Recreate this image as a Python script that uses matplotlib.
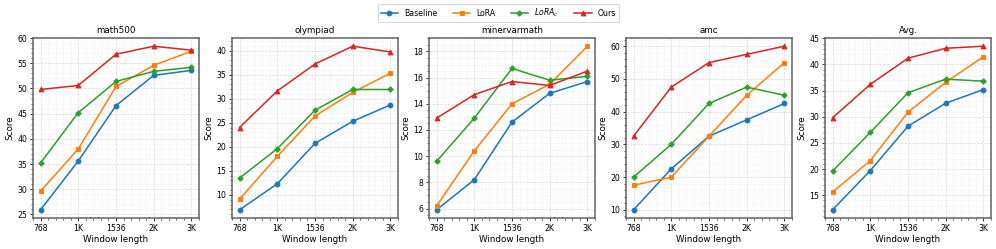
import numpy as np
import matplotlib
matplotlib.use("Agg")
from matplotlib import pyplot as plt
from matplotlib.ticker import AutoMinorLocator

window_labels = ["768", "1K", "1536", "2K", "3K"]
panel_titles = ["math500", "olympiad", "minervarmath", "amc", "Avg."]
method_names = ["Baseline", "LoRA", "$LoRA_c$", "Ours"]

# scores per panel, one list per method (Baseline, LoRA, LoRA_c, Ours)
math500 = [
    [25.9, 35.6, 46.6, 52.6, 53.6],
    [29.6, 38.0, 50.4, 54.6, 57.4],
    [35.2, 45.2, 51.4, 53.4, 54.2],
    [49.8, 50.6, 56.8, 58.4, 57.6],
]
olympiad = [
    [6.9, 12.3, 20.7, 25.3, 28.7],
    [9.1, 18.0, 26.4, 31.3, 35.3],
    [13.5, 19.6, 27.6, 31.9, 31.9],
    [24.0, 31.6, 37.2, 40.9, 39.7],
]
minervamath = [
    [5.9, 8.2, 12.6, 14.8, 15.7],
    [6.2, 10.4, 14.0, 15.5, 18.4],
    [9.6, 12.9, 16.7, 15.8, 16.1],
    [12.9, 14.7, 15.7, 15.4, 16.5],
]
amc = [
    [10.0, 22.5, 32.5, 37.5, 42.5],
    [17.5, 20.0, 32.5, 45.0, 55.0],
    [20.0, 30.0, 42.5, 47.5, 45.0],
    [32.5, 47.5, 55.0, 57.5, 60.0],
]
avg = [
    [12.2, 19.7, 28.2, 32.6, 35.2],
    [15.6, 21.6, 30.9, 36.6, 41.5],
    [19.6, 27.0, 34.6, 37.2, 36.8],
    [29.8, 36.2, 41.2, 43.1, 43.5],
]
panels = [math500, olympiad, minervamath, amc, avg]

colors = ["#1f77b4", "#ff7f0e", "#2ca02c", "#d62728"]
markers = ["o", "s", "P", "^"]

# drawn at a low dpi so the default text and line sizes come out small, like the reference
DPI = 70
W, H = 997, 249
fig = plt.figure(figsize=(W / DPI, H / DPI), dpi=DPI)
lefts = [33, 232, 429, 626, 825]
ax_w = 166
top, bottom = 38, 218

x = np.arange(len(window_labels))
handles = []
for i, data in enumerate(panels):
    ax = fig.add_axes([lefts[i] / W, 1 - bottom / H, ax_w / W, (bottom - top) / H])
    for j, series in enumerate(data):
        h, = ax.plot(x, series, color=colors[j], marker=markers[j], markersize=5,
                     linewidth=1.6, label=method_names[j])
        if i == 0:
            handles.append(h)
    ax.set_xticks(x)
    ax.set_xticklabels(window_labels)
    ax.xaxis.set_minor_locator(AutoMinorLocator())
    ax.yaxis.set_minor_locator(AutoMinorLocator())
    ax.grid(which="major", linestyle="--", color="#cccccc", linewidth=0.7, alpha=0.8)
    ax.grid(which="minor", linestyle=":", color="#dddddd", linewidth=0.6, alpha=0.8)
    ax.tick_params(labelsize=8, pad=2.5)
    for s in ax.spines.values():
        s.set_color("#666666")
        s.set_linewidth(1.6)
    ax.set_title(panel_titles[i], fontsize=9, pad=5)
    ax.set_xlabel("Window length", fontsize=9, labelpad=2)
    ax.set_ylabel("Score", fontsize=9, labelpad=3)

fig.legend(handles=handles, loc="center", bbox_to_anchor=(0.5, 1 - 13 / H), ncol=4,
           fontsize=8, frameon=True, handlelength=2.2, columnspacing=2.0,
           borderpad=0.4, handletextpad=0.8)

fig.savefig("out.png", dpi=DPI)
